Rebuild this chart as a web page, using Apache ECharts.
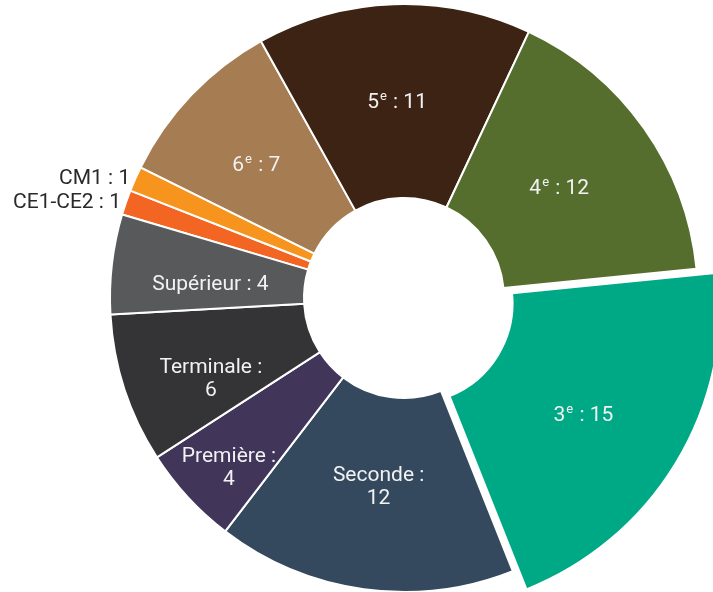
<!DOCTYPE html>
<html>
<head>
<meta charset="utf-8">
<script src="https://cdn.jsdelivr.net/npm/echarts@6/dist/echarts.min.js"></script>
<style>
html,body{margin:0;padding:0;background:#fff;}
#chart{width:713px;height:592px;}
</style>
</head>
<body>
<div id="chart"></div>
<script>
// Data
const categories = ['CE1-CE2', 'CM1', '6e', '5e', '4e', '3e', 'Seconde', 'Première', 'Terminale', 'Supérieur'];
const values = [1, 1, 7, 11, 12, 15, 12, 4, 6, 4];
const labelTexts = ['CE1-CE2 : 1', 'CM1 : 1', '6{sup|e} : 7', '5{sup|e} : 11', '4{sup|e} : 12', '3{sup|e} : 15', 'Seconde :\n12', 'Première :\n4', 'Terminale :\n6', 'Supérieur : 4'];
const colors = ['#F26522', '#F7941D', '#A67C52', '#3C2314', '#556D2D', '#00A985', '#34495E', '#41355A', '#343437', '#58595B'];
const outsideItems = ['CE1-CE2', 'CM1'];
const explodedItem = '3e';

// label nudges (style only), relative to the library's inside label anchor
const labelNudge = {
  '6e': [-3, 6], '5e': [0, 5], '4e': [-8, 6], '3e': [-6, 5],
  'Seconde': [2, -9], 'Première': [-28, 35], 'Terminale': [-3, 19], 'Supérieur': [5, 10]
};

const baseLabel = {
  show: true,
  position: 'inside',
  color: '#f2f2f2',
  fontFamily: 'Roboto',
  fontSize: 21,
  lineHeight: 23,
  rich: {
    sup: { fontSize: 13, lineHeight: 9, padding: [0, 1, 12, 1], fontFamily: 'Roboto' }
  }
};

function buildItem(name, i, visible) {
  const item = { name: name, value: values[i] };
  if (!visible) {
    item.itemStyle = { color: 'transparent', borderWidth: 0 };
    item.label = { show: false };
    item.labelLine = { show: false };
    return item;
  }
  item.itemStyle = { color: colors[i] };
  item.label = { formatter: labelTexts[i] };
  if (labelNudge[name]) item.label.offset = labelNudge[name];
  if (outsideItems.includes(name)) {
    item.label.position = 'outside';
    item.label.color = '#2a2a2a';
    item.labelLine = { show: false, length: 0, length2: 0 };
  }
  return item;
}

const mainData = categories.map((name, i) => buildItem(name, i, name !== explodedItem));
const explodedData = categories.map((name, i) => buildItem(name, i, name === explodedItem));

// explode offset: 10px along the exploded slice's bisector
const startAngle = 163.5;
const total = values.reduce((a, b) => a + b, 0);
const exIdx = categories.indexOf(explodedItem);
const before = values.slice(0, exIdx).reduce((a, b) => a + b, 0);
const midDeg = startAngle - (before + values[exIdx] / 2) / total * 360;
const midRad = midDeg * Math.PI / 180;
const cx = 404, cy = 298, explode = 10;

const common = {
  type: 'pie',
  startAngle: startAngle,
  clockwise: true,
  avoidLabelOverlap: false,
  itemStyle: { borderColor: '#fff', borderWidth: 2 },
  label: baseLabel,
  emphasis: { disabled: true }
};

const chart = echarts.init(document.getElementById('chart'));
chart.setOption({
  animation: false,
  series: [
    Object.assign({}, common, { center: [cx, cy], radius: [100, 294], data: mainData }),
    Object.assign({}, common, {
      center: [cx + explode * Math.cos(midRad), cy - explode * Math.sin(midRad)],
      radius: [100, 308],
      data: explodedData
    })
  ]
});
</script>
</body>
</html>
